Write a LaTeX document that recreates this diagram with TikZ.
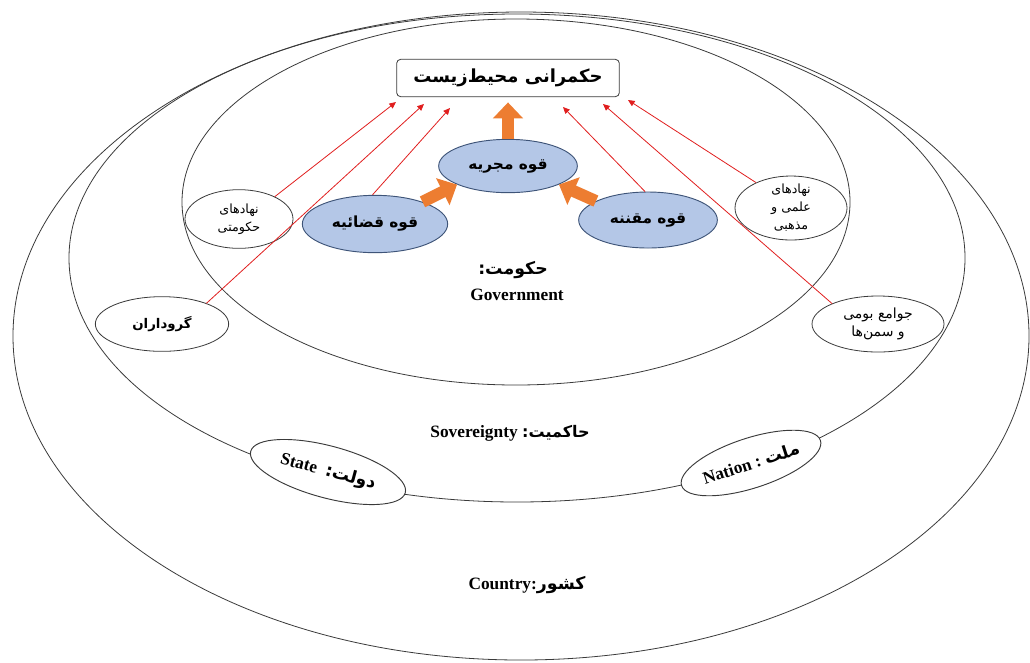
\documentclass[tikz,border=0pt]{standalone}
\usepackage{fontspec}
\usetikzlibrary{shapes.geometric,arrows.meta}
\TeXXeTstate=1
\newfontfamily\fa[Script=Arabic]{DejaVu Sans}
\newfontfamily\lat{Liberation Serif}
\newcommand\rtl[1]{\beginR#1\endR}
\definecolor{powfill}{HTML}{B4C7E7}
\definecolor{powline}{HTML}{3E5478}
\definecolor{orng}{HTML}{ED7D31}
\definecolor{ringc}{HTML}{3A3A3A}
\definecolor{redln}{HTML}{E01E1E}
\begin{document}
\begin{tikzpicture}[x=0.75pt,y=-0.75pt,
  ring/.style={draw=ringc, line width=0.6pt},
  power/.style={ellipse, draw=powline, fill=powfill, line width=0.7pt, inner sep=0pt},
  actor/.style={ellipse, draw=ringc, line width=0.6pt, inner sep=0pt},
  pillar/.style={ellipse, draw=ringc, fill=white, line width=0.7pt, inner sep=0pt},
  lbl/.style={inner sep=0pt, align=center},
  powtxt/.style={lbl, font=\fa\bfseries\fontsize{11.5}{14}\selectfont},
  acttxt/.style={lbl, font=\fa\fontsize{9.5}{13.5}\selectfont},
  push/.style={draw=orng, line width=9pt, -{Triangle[width=22pt,length=12pt]}},
  infl/.style={draw=redln, line width=0.6pt, -{Triangle[length=5pt,width=4.5pt]}}
]
\useasboundingbox (0,0) rectangle (1030,662);
% nested rings
\begin{scope}
\clip (0,0) rectangle (1030,662);
\draw[ring] (521,336) ellipse [x radius=508, y radius=324];
\draw[ring] (517,258) ellipse [x radius=448, y radius=244];
\draw[ring] (516,202) ellipse [x radius=334, y radius=183];
\end{scope}

% top box
\node[draw=ringc, fill=white, rounded corners=3pt, line width=0.6pt,
      minimum width=167pt, minimum height=28pt, inner sep=0pt,
      font=\fa\bfseries\fontsize{13.5}{16}\selectfont] (gov) at (508,78) {\rtl{حکمرانی محیط‌زیست}};

% three powers
\node[power, minimum width=104pt, minimum height=40pt] (exe) at (508,166) {};
\node[powtxt] (exet) at (exe) {\rtl{قوه مجریه}};
\node[power, minimum width=109pt, minimum height=43pt] (jud) at (375,224) {};
\node[powtxt] (judt) at (jud) {\rtl{قوه قضائیه}};
\node[power, minimum width=104pt, minimum height=42pt] (leg) at (648,220) {};
\node[powtxt] (legt) at (leg) {\rtl{قوه مقننه}};

% actors
\node[actor, minimum width=81pt, minimum height=44pt] (gin) at (239,219) {};
\node[acttxt] (gint) at (gin) {\rtl{نهادهای}\\\rtl{حکومتی}};
\node[actor, minimum width=100pt, minimum height=41pt] (stk) at (162,324) {};
\node[acttxt, font=\fa\bfseries\fontsize{10}{13}\selectfont] (stkt) at (stk) {\rtl{گروداران}};
\node[actor, minimum width=84pt, minimum height=48pt] (sci) at (791,208) {};
\node[acttxt] (scit) at (sci) {\rtl{نهادهای}\\\rtl{علمی و}\\\rtl{مذهبی}};
\node[actor, minimum width=99pt, minimum height=42pt] (com) at (878,324) {};
\node[acttxt, font=\fa\fontsize{10.5}{14}\selectfont] (comt) at (com) {\rtl{جوامع بومی}\\\rtl{و سمن‌ها}};

% state and nation
\node[pillar, rotate=-15, minimum width=120pt, minimum height=39pt] (sta) at (328,472) {};
\node[lbl, rotate=-15] (stat) at (sta) {{\lat\bfseries\fontsize{13}{15}\selectfont State}\ \ {\fa\bfseries\fontsize{13}{15}\selectfont :\rtl{دولت}}};
\node[pillar, rotate=18, minimum width=109.5pt, minimum height=37.5pt] (nat) at (751,463) {};
\node[lbl, rotate=18] (natt) at (nat) {{\lat\bfseries\fontsize{13}{15}\selectfont Nation :}\ {\fa\bfseries\fontsize{13}{15}\selectfont\rtl{ملت}}};

% ring labels
\node[lbl, font=\fa\bfseries\fontsize{13}{15}\selectfont] (govt) at (513,270) {\rtl{حکومت:}};
\node[lbl, font=\lat\bfseries\fontsize{13}{15}\selectfont] (gove) at (517,295) {Government};
\node[lbl] (sov) at (510,433) {{\lat\bfseries\fontsize{13}{15}\selectfont Sovereignty}\ {\fa\bfseries\fontsize{12}{15}\selectfont :\rtl{حاکمیت}}};
\node[lbl] (cty) at (527,585) {{\lat\bfseries\fontsize{13}{15}\selectfont Country:}{\fa\bfseries\fontsize{13}{15}\selectfont\rtl{کشور}}};

% orange arrows
\draw[push] (jud.25) -- (exe.200);
\draw[push] (leg.160) -- (exe.340);
\draw[push, shorten >=4pt] (exe.north) -- (gov.south);

% red influence arrows
\coordinate (t1) at (396,102);
\coordinate (t2) at (424,104);
\coordinate (t3) at (450,108);
\coordinate (t4) at (563,107);
\coordinate (t5) at (603,104);
\coordinate (t6) at (628,100);
\draw[infl] (gin.32) -- (t1);
\draw[infl] (stk.25) -- (t2);
\draw[infl] (jud.95) -- (t3);
\draw[infl] (leg.96) -- (t4);
\draw[infl] (com.156) -- (t5);
\draw[infl] (sci.144) -- (t6);
\end{tikzpicture}
\end{document}
